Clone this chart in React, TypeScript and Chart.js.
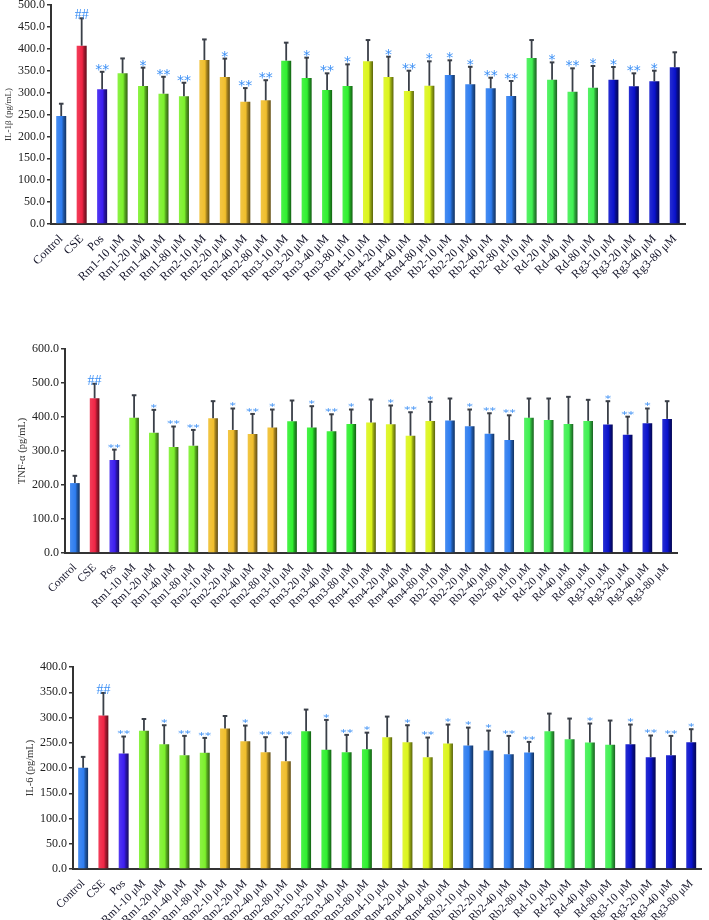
import React, { useEffect, useRef } from "react";
import { Chart, registerables } from "chart.js";

Chart.register(...registerables);

const categories = [
  "Control", "CSE", "Pos",
  "Rm1-10 μM", "Rm1-20 μM", "Rm1-40 μM", "Rm1-80 μM",
  "Rm2-10 μM", "Rm2-20 μM", "Rm2-40 μM", "Rm2-80 μM",
  "Rm3-10 μM", "Rm3-20 μM", "Rm3-40 μM", "Rm3-80 μM",
  "Rm4-10 μM", "Rm4-20 μM", "Rm4-40 μM", "Rm4-80 μM",
  "Rb2-10 μM", "Rb2-20 μM", "Rb2-40 μM", "Rb2-80 μM",
  "Rd-10 μM", "Rd-20 μM", "Rd-40 μM", "Rd-80 μM",
  "Rg3-10 μM", "Rg3-20 μM", "Rg3-40 μM", "Rg3-80 μM",
];

// IL-1β (pg/mL)
const il1bMean = [
  246.6, 407, 307.5,
  344, 315, 297.6, 291.5,
  374.4, 335.6, 279.3, 282.3,
  373, 333.3, 306, 315,
  371.4, 335.6, 303.7, 315.8,
  340, 318.9, 309.7, 292.2,
  379, 329.5, 302, 311.3,
  329.5, 314.3, 325.7, 357.7,
];
const il1bSD = [
  28, 62.6, 40,
  34, 42, 38.5, 31,
  47, 42, 31, 46,
  41, 46.5, 38, 49.5,
  48.6, 46.4, 46.3, 55.6,
  33.7, 40, 24.3, 34.3,
  41, 39.5, 53.4, 49.4,
  29, 29.7, 24.3, 34.3,
];
const il1bMarks = [
  "", "##", "**",
  "", "*", "**", "**",
  "", "*", "**", "**",
  "", "*", "**", "*",
  "", "*", "**", "*",
  "*", "*", "**", "**",
  "", "*", "**", "*",
  "*", "**", "*", "",
];

// TNF-α (pg/mL)
const tnfMean = [
  205.6, 455, 273.4,
  398, 354, 312, 315.7,
  396.4, 362, 350, 368.8,
  387.5, 368.8, 358, 379.7,
  383.6, 378.7, 345, 388.5,
  389.5, 372.8, 351, 332.4,
  398, 391.5, 379.7, 388.5,
  377.7, 348, 381.6, 394.4,
];
const tnfSD = [
  21.4, 42.7, 30.6,
  66, 67, 60, 46.3,
  50.2, 63, 59, 53.2,
  61, 63, 50, 42.3,
  67.9, 55.1, 69, 56.1,
  64.9, 49.2, 60, 72.6,
  56.4, 62.9, 79.6, 62,
  68.8, 53, 43.4, 52.1,
];
const tnfMarks = [
  "", "##", "**",
  "", "*", "**", "**",
  "", "*", "**", "*",
  "", "*", "**", "*",
  "", "*", "**", "*",
  "", "*", "**", "**",
  "", "", "", "",
  "*", "**", "*", "",
];

// IL-6 (pg/mL)
const il6Mean = [
  200.3, 303.8, 228.7,
  274, 247, 225.4, 230,
  278, 253, 231.3, 213.5,
  272.8, 236, 231.3, 237.2,
  261, 251, 221.4, 248.4,
  244.5, 234.6, 227.3, 230.6,
  272.8, 257, 250.4, 245.8,
  247, 221.4, 225.4, 251,
];
const il6SD = [
  21.7, 44.8, 33.6,
  23, 37.7, 38.2, 29.6,
  25, 31, 29.7, 47.5,
  42.9, 59.2, 34.3, 32.8,
  40.8, 33.7, 38.9, 37.6,
  35.5, 39.4, 36.3, 21.1,
  34.9, 40.9, 37.6, 48.2,
  39, 42.9, 38.2, 25.8,
];
const il6Marks = [
  "", "##", "**",
  "", "*", "**", "**",
  "", "*", "**", "**",
  "", "*", "**", "*",
  "", "*", "**", "*",
  "*", "*", "**", "**",
  "", "", "*", "",
  "*", "**", "**", "*",
];

// bar colours (style)
const C_CTRL = "#2E7DF0";
const C_CSE = "#F02444";
const C_POS = "#3C1EF0";
const C_RM1 = "#7CF02C";
const C_RM2 = "#F0BE2C";
const C_RM3 = "#30F030";
const C_RM4 = "#DCF51C";
const C_RB2 = "#2E7DF0";
const C_RD = "#40F052";
const C_RG3 = "#0A12CC";
const barColors = [
  C_CTRL, C_CSE, C_POS,
  C_RM1, C_RM1, C_RM1, C_RM1,
  C_RM2, C_RM2, C_RM2, C_RM2,
  C_RM3, C_RM3, C_RM3, C_RM3,
  C_RM4, C_RM4, C_RM4, C_RM4,
  C_RB2, C_RB2, C_RB2, C_RB2,
  C_RD, C_RD, C_RD, C_RD,
  C_RG3, C_RG3, C_RG3, C_RG3,
];

const BAR_FRAC = 0.49;

function shade(hex: string, amt: number): string {
  const n = parseInt(hex.slice(1), 16);
  let r = (n >> 16) & 255, g = (n >> 8) & 255, b = n & 255;
  if (amt >= 0) {
    r = r + (255 - r) * amt; g = g + (255 - g) * amt; b = b + (255 - b) * amt;
  } else {
    r = r * (1 + amt); g = g * (1 + amt); b = b * (1 + amt);
  }
  return `rgb(${Math.round(r)},${Math.round(g)},${Math.round(b)})`;
}

function barFill(c: any) {
  const chart = c.chart;
  const base = barColors[c.dataIndex] || "#888";
  const xs = chart.scales && chart.scales.x;
  if (!chart.chartArea || !xs) return base;
  const cx = xs.getPixelForValue(c.dataIndex);
  const w = (xs.width / categories.length) * BAR_FRAC;
  if (!isFinite(cx) || !isFinite(w)) return base;
  const g = chart.ctx.createLinearGradient(cx - w / 2, 0, cx + w / 2, 0);
  g.addColorStop(0, shade(base, 0.12));
  g.addColorStop(0.55, base);
  g.addColorStop(0.72, shade(base, -0.3));
  g.addColorStop(1, shade(base, -0.6));
  return g;
}

const errorMarksPlugin = {
  id: "errorMarks",
  afterDatasetsDraw(chart: any, _args: any, opts: any) {
    const meta = chart.getDatasetMeta(0);
    const ys = chart.scales.y;
    const ctx = chart.ctx;
    const data = chart.data.datasets[0].data as number[];
    ctx.save();
    meta.data.forEach((bar: any, i: number) => {
      const x = bar.x;
      const top = ys.getPixelForValue(data[i]);
      const errTop = ys.getPixelForValue(data[i] + opts.sd[i]);
      ctx.strokeStyle = "#3a3f48";
      ctx.lineWidth = 1.8;
      ctx.beginPath();
      ctx.moveTo(x, top);
      ctx.lineTo(x, errTop);
      ctx.stroke();
      ctx.lineWidth = 2;
      ctx.beginPath();
      ctx.moveTo(x - 2.3, errTop);
      ctx.lineTo(x + 2.3, errTop);
      ctx.stroke();
      const m = opts.marks[i];
      if (!m) return;
      ctx.fillStyle = "#3b8ff5";
      if (m[0] === "#") {
        ctx.font = "14px 'Liberation Serif'";
        ctx.textAlign = "center";
        ctx.textBaseline = "alphabetic";
        ctx.fillText(m, x, errTop + 1);
      } else {
        ctx.font = opts.starFont;
        ctx.textAlign = "center";
        ctx.textBaseline = "alphabetic";
        const mt = ctx.measureText(m);
        const off = (mt.actualBoundingBoxAscent - mt.actualBoundingBoxDescent) / 2;
        ctx.save();
        ctx.translate(x, errTop - opts.starGap);
        ctx.scale(1, opts.starScaleY);
        ctx.fillText(m, 0, off);
        ctx.restore();
      }
    });
    ctx.restore();
  },
};

type PanelProps = {
  top: number;
  height: number;
  values: number[];
  sd: number[];
  marks: string[];
  max: number;
  step: number;
  title: string;
  titleSize: number;
  titlePad: number;
  yWidth: number;
  xHeight: number;
  padRight: number;
  xFontSize: number;
  starFont: string;
  starScaleY: number;
  starGap: number;
};

function Panel(p: PanelProps) {
  const ref = useRef<HTMLCanvasElement | null>(null);
  useEffect(() => {
    if (!ref.current) return;
    const chart = new Chart(ref.current, {
      type: "bar",
      data: {
        labels: categories,
        datasets: [
          {
            data: p.values,
            backgroundColor: barFill as any,
            borderWidth: 0,
            barPercentage: BAR_FRAC,
            categoryPercentage: 1,
          },
        ],
      },
      options: {
        animation: false,
        responsive: false,
        maintainAspectRatio: false,
        layout: { padding: { top: 10, right: p.padRight, left: 0, bottom: 0 } },
        plugins: {
          legend: { display: false },
          tooltip: { enabled: false },
          errorMarks: {
            sd: p.sd,
            marks: p.marks,
            starFont: p.starFont,
            starScaleY: p.starScaleY,
            starGap: p.starGap,
          },
        } as any,
        scales: {
          x: {
            grid: { display: false, drawTicks: false },
            border: { display: true, color: "#333", width: 2 },
            ticks: {
              autoSkip: false,
              maxRotation: 45,
              minRotation: 45,
              padding: 8,
              color: "#15152a",
              font: { family: "'Liberation Serif'", size: p.xFontSize },
            },
            afterFit: (s: any) => {
              s.height = p.xHeight;
            },
          },
          y: {
            min: 0,
            max: p.max,
            ticks: {
              stepSize: p.step,
              padding: 2,
              color: "#222",
              font: { family: "'Liberation Serif'", size: 12 },
              callback: (v: any) => Number(v).toFixed(1),
            },
            grid: {
              drawOnChartArea: false,
              drawTicks: true,
              tickLength: 4,
              color: "#333",
              lineWidth: 1.5,
            },
            border: { display: true, color: "#333", width: 2 },
            title: {
              display: true,
              text: p.title,
              color: "#333",
              font: { family: "'Liberation Serif'", size: p.titleSize },
              padding: { top: p.titlePad, bottom: 0 },
            },
            afterFit: (s: any) => {
              s.width = p.yWidth;
            },
          },
        },
      },
      plugins: [errorMarksPlugin as any],
    });
    return () => chart.destroy();
  }, []);
  return (
    <div style={{ position: "absolute", left: 0, top: p.top, width: 709, height: p.height }}>
      <canvas ref={ref} width={709} height={p.height} style={{ width: 709, height: p.height, display: "block" }} />
    </div>
  );
}

export default function App() {
  return (
    <div style={{ position: "absolute", left: 0, top: 0, width: 709, height: 920, overflow: "hidden", background: "#fff" }}>
      <Panel
        top={-5}
        height={314}
        values={il1bMean}
        sd={il1bSD}
        marks={il1bMarks}
        max={500}
        step={50}
        title="IL-1β (pg/mL)"
        titleSize={9}
        titlePad={3}
        yWidth={51}
        xHeight={85}
        padRight={24}
        xFontSize={12}
        starFont="14px 'DejaVu Sans'"
        starScaleY={1}
        starGap={4.5}
      />
      <Panel
        top={339}
        height={304}
        values={tnfMean}
        sd={tnfSD}
        marks={tnfMarks}
        max={600}
        step={100}
        title="TNF-α (pg/mL)"
        titleSize={10.5}
        titlePad={16}
        yWidth={65}
        xHeight={90}
        padRight={32}
        xFontSize={11.5}
        starFont="13px 'DejaVu Sans'"
        starScaleY={0.65}
        starGap={3}
      />
      <Panel
        top={657}
        height={263}
        values={il6Mean}
        sd={il6SD}
        marks={il6Marks}
        max={400}
        step={50}
        title="IL-6 (pg/mL)"
        titleSize={10.5}
        titlePad={24}
        yWidth={73}
        xHeight={51}
        padRight={1}
        xFontSize={11.5}
        starFont="13px 'DejaVu Sans'"
        starScaleY={0.7}
        starGap={3.5}
      />
    </div>
  );
}
